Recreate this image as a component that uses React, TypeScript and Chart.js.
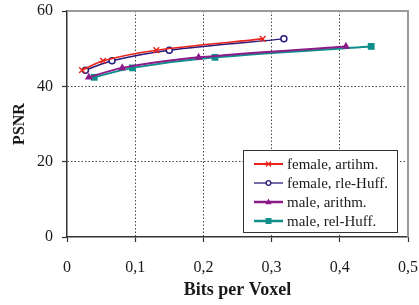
import React, { useEffect, useRef } from 'react';
import { Chart, registerables } from 'chart.js';

Chart.register(...registerables);

// ---- data ----
const seriesLabels = ['female, artihm.', 'female, rle-Huff.', 'male, arithm.', 'male, rel-Huff.'];
const femaleArithX = [0.022, 0.053, 0.131, 0.287];
const femaleArithY = [44.3, 46.8, 49.6, 52.6];
const femaleRleX = [0.027, 0.066, 0.150, 0.318];
const femaleRleY = [44.3, 46.8, 49.6, 52.6];
const maleArithX = [0.032, 0.081, 0.193, 0.409];
const maleArithY = [42.4, 44.9, 47.7, 50.6];
const maleRelX = [0.040, 0.096, 0.217, 0.446];
const maleRelY = [42.4, 44.9, 47.7, 50.6];
const xTicks = [0, 0.1, 0.2, 0.3, 0.4, 0.5];
const yTicks = [0, 20, 40, 60];
const xTitle = 'Bits per Voxel';
const yTitle = 'PSNR';

const COLORS = ['#e8231c', '#2a1a7c', '#8c1b8a', '#0f8f8a'];
const FONT = "'Liberation Serif', 'Times New Roman', serif";

const toPts = (xs: number[], ys: number[]) => xs.map((x, i) => ({ x, y: ys[i] }));

function drawMarker(ctx: CanvasRenderingContext2D, kind: number, x: number, y: number, s: number) {
  ctx.save();
  const c = COLORS[kind];
  ctx.strokeStyle = c;
  ctx.fillStyle = c;
  ctx.lineWidth = 1.3;
  ctx.beginPath();
  if (kind === 0) {
    ctx.moveTo(x - s, y - s); ctx.lineTo(x + s, y + s);
    ctx.moveTo(x + s, y - s); ctx.lineTo(x - s, y + s);
    ctx.stroke();
  } else if (kind === 1) {
    ctx.arc(x, y, s, 0, Math.PI * 2);
    ctx.fillStyle = '#fff';
    ctx.fill();
    ctx.stroke();
  } else if (kind === 2) {
    ctx.moveTo(x, y - s * 1.1);
    ctx.lineTo(x + s, y + s * 0.7);
    ctx.lineTo(x - s, y + s * 0.7);
    ctx.closePath();
    ctx.fill();
  } else {
    ctx.rect(x - s, y - s, 2 * s, 2 * s);
    ctx.fill();
  }
  ctx.restore();
}

const framePlugin = {
  id: 'frame',
  beforeDatasetsDraw(chart: any) {
    const { ctx, chartArea: a } = chart;
    ctx.save();
    ctx.strokeStyle = '#9a9a9a';
    ctx.lineWidth = 2;
    ctx.beginPath();
    ctx.moveTo(a.left, a.top);
    ctx.lineTo(a.right, a.top);
    ctx.lineTo(a.right, a.bottom);
    ctx.stroke();
    ctx.restore();
  },
};

const legendPlugin = {
  id: 'boxLegend',
  afterDraw(chart: any) {
    const { ctx, chartArea: a } = chart;
    const w = 154, h = 82;
    const right = a.right - 11;
    const bottom = a.bottom - 5;
    const left = right - w;
    const top = bottom - h;
    ctx.save();
    ctx.fillStyle = '#ffffff';
    ctx.fillRect(left, top, w, h);
    ctx.strokeStyle = '#333';
    ctx.lineWidth = 1;
    ctx.strokeRect(left + 0.5, top + 0.5, w, h);
    ctx.font = `15px ${FONT}`;
    ctx.textBaseline = 'middle';
    ctx.textAlign = 'left';
    const sizes = [2.5, 2.3, 3.2, 3];
    const widths = [2, 1.3, 2.5, 2.5];
    chart.data.datasets.forEach((ds: any, i: number) => {
      const y = top + 14 + i * 19;
      ctx.strokeStyle = COLORS[i];
      ctx.lineWidth = widths[i];
      ctx.beginPath();
      ctx.moveTo(left + 11, y);
      ctx.lineTo(left + 40, y);
      ctx.stroke();
      drawMarker(ctx, i, left + 25.5, y, sizes[i]);
      ctx.fillStyle = '#1a1a1a';
      ctx.fillText(ds.label, left + 44, y + 1);
    });
    ctx.restore();
  },
};

export default function App() {
  const ref = useRef<HTMLCanvasElement | null>(null);
  useEffect(() => {
    if (!ref.current) return;
    Chart.defaults.font.family = FONT;
    Chart.defaults.color = '#1a1a1a';
    const chart = new Chart(ref.current, {
      type: 'line',
      data: {
        datasets: [
          {
            label: seriesLabels[0],
            data: toPts(femaleArithX, femaleArithY),
            borderColor: COLORS[0],
            backgroundColor: COLORS[0],
            borderWidth: 1.6,
            pointStyle: 'crossRot',
            pointRadius: 4,
            pointBorderWidth: 1.4,
            tension: 0.3,
          },
          {
            label: seriesLabels[1],
            data: toPts(femaleRleX, femaleRleY),
            borderColor: COLORS[1],
            backgroundColor: '#ffffff',
            borderWidth: 1.5,
            pointStyle: 'circle',
            pointRadius: 3,
            pointBorderWidth: 1.5,
            tension: 0.3,
          },
          {
            label: seriesLabels[2],
            data: toPts(maleArithX, maleArithY),
            borderColor: COLORS[2],
            backgroundColor: COLORS[2],
            borderWidth: 2,
            pointStyle: 'triangle',
            pointRadius: 4.6,
            pointBorderWidth: 0,
            tension: 0.3,
          },
          {
            label: seriesLabels[3],
            data: toPts(maleRelX, maleRelY),
            borderColor: COLORS[3],
            backgroundColor: COLORS[3],
            borderWidth: 2,
            pointStyle: 'rect',
            pointRadius: 4.8,
            pointBorderWidth: 0,
            tension: 0.3,
          },
        ],
      },
      options: {
        responsive: false,
        animation: false,
        layout: { padding: { top: 11, right: 11, left: 0, bottom: 0 } },
        plugins: {
          legend: { display: false },
          tooltip: { enabled: false },
        },
        scales: {
          x: {
            type: 'linear',
            min: 0,
            max: 0.5,
            afterBuildTicks: (s: any) => { s.ticks = xTicks.map((v) => ({ value: v })); },
            afterFit: (s: any) => { s.height = 68; s.paddingLeft = 0; s.paddingRight = 0; },
            ticks: {
              font: { size: 16 },
              padding: 16,
              maxRotation: 0,
              callback: (v: any) => (Math.round(Number(v) * 10) / 10).toString().replace('.', ','),
            },
            grid: {
              color: (c: any) => (c.tick && (c.tick.value === 0 || c.tick.value === 0.5) ? 'rgba(0,0,0,0)' : '#444'),
              lineWidth: 1,
              drawTicks: true,
              tickLength: 5,
              tickColor: '#333',
              tickWidth: 1.2,
            },
            border: { display: true, color: '#333', width: 1.5, dash: [1.5, 2] },
            title: {
              display: true,
              text: xTitle,
              font: { size: 18, weight: 'bold' },
              padding: { top: 0, bottom: 4 },
            },
          },
          y: {
            type: 'linear',
            min: 0,
            max: 60,
            afterBuildTicks: (s: any) => { s.ticks = yTicks.map((v) => ({ value: v })); },
            afterFit: (s: any) => { s.width = 67; s.paddingTop = 0; s.paddingBottom = 0; },
            ticks: {
              font: { size: 16 },
              padding: 9,
            },
            grid: {
              color: (c: any) => (c.tick && (c.tick.value === 0 || c.tick.value === 60) ? 'rgba(0,0,0,0)' : '#444'),
              lineWidth: 1,
              drawTicks: true,
              tickLength: 5,
              tickColor: '#333',
              tickWidth: 1.2,
            },
            border: { display: true, color: '#333', width: 1.5, dash: [1.5, 2] },
            title: {
              display: true,
              text: yTitle,
              font: { size: 16, weight: 'bold' },
              padding: { top: 10, bottom: 0 },
            },
          },
        },
      },
      plugins: [framePlugin, legendPlugin],
    });
    return () => chart.destroy();
  }, []);
  return (
    <div style={{ position: 'absolute', left: 0, top: 0, width: 419, height: 305 }}>
      <canvas ref={ref} width={419} height={305} style={{ display: 'block' }} />
    </div>
  );
}
